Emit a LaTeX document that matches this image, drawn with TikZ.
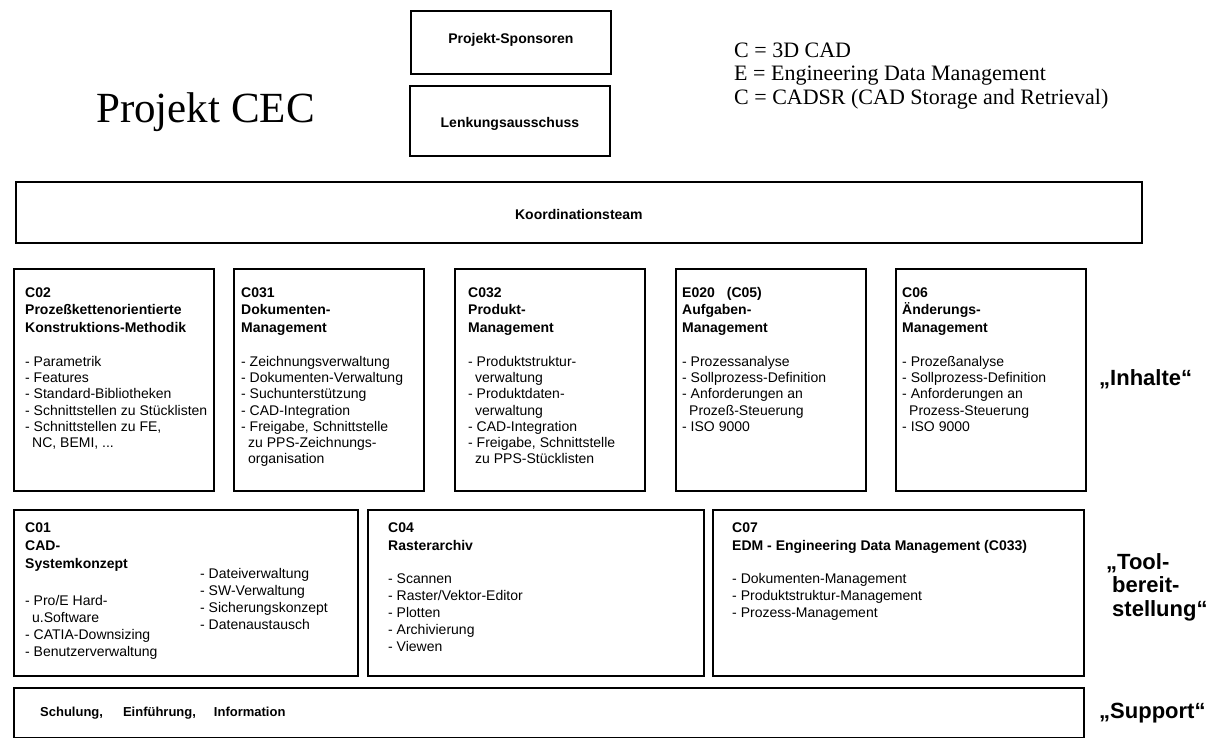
\documentclass[tikz,border=0pt]{standalone}
\usepackage{fontspec}
\setmainfont{Liberation Serif}
\newfontfamily\arial{Liberation Sans}
\usetikzlibrary{calc}
\newcommand\hd[1]{\textbf{#1}}
\newcommand\fh[1]{\textbf{\vphantom{()}#1}}
\newcommand\ind{\hspace*{7pt}}
\begin{document}
\begin{tikzpicture}[x=1pt,y=-1pt,
  box/.style={draw, line width=1.8pt, anchor=north west, inner sep=0pt},
  txt/.style={anchor=north west, inner sep=0pt, align=left, font=\arial\fontsize{14}{16.3}\selectfont},
  txtb/.style={anchor=north west, inner sep=0pt, align=left, font=\arial\fontsize{14}{17}\selectfont},
  ttl/.style={font=\arial\bfseries\fontsize{14}{17}\selectfont, inner sep=0pt},
  side/.style={anchor=west, inner sep=0pt, align=left, font=\arial\bfseries\fontsize{22}{23.5}\selectfont}]
\useasboundingbox (0,0) rectangle (1212,738);
\fill[white] (0,0) rectangle (1212,738);

% title and legend
\node[anchor=base, inner sep=0pt, font=\fontsize{43}{47}\selectfont] (title) at (205.5,123) {Projekt CEC};
\node[anchor=north west, inner sep=0pt, align=left, font=\fontsize{22}{23.5}\selectfont] (legend) at (734,42.5)
  {C = 3D CAD\\E = Engineering Data Management\\C = CADSR (CAD Storage and Retrieval)};

% top boxes
\node[box, minimum width=200pt, minimum height=63pt] (spons) at (410,10) {};
\node[ttl] (sponst) at ($(spons.center)+(0,-3)$) {Projekt-Sponsoren};
\node[box, minimum width=200pt, minimum height=70pt] (lenk) at (409,85) {};
\node[ttl] (lenkt) at ($(lenk.center)+(0,3)$) {Lenkungsausschuss};
\node[box, minimum width=1126pt, minimum height=61pt] (koord) at (15,181) {};
\node[ttl] (koordt) at ($(koord.center)+(0,2)$) {Koordinationsteam};

% content row
\node[box, minimum width=200pt, minimum height=222pt] (c02) at (13,268) {};
\node[box, minimum width=190pt, minimum height=222pt] (c031) at (233,268) {};
\node[box, minimum width=190pt, minimum height=222pt] (c032) at (454,268) {};
\node[box, minimum width=190pt, minimum height=222pt] (e020) at (675,268) {};
\node[box, minimum width=190pt, minimum height=222pt] (c06) at (895,268) {};

\node[txt] (c02t) at ($(c02.north west)+(12,19)$) {\fh{C02}\\[1.2pt]\hd{Prozeßkettenorientierte}\\[1.2pt]\hd{Konstruktions-Methodik}\\[17.5pt]
- Parametrik\\- Features\\- Standard-Bibliotheken\\- Schnittstellen zu Stücklisten\\- Schnittstellen zu FE,\\\ind NC, BEMI, ...};
\node[txt] (c031t) at ($(c031.north west)+(8,19)$) {\fh{C031}\\[1.2pt]\hd{Dokumenten-}\\[1.2pt]\hd{Management}\\[17.5pt]
- Zeichnungsverwaltung\\- Dokumenten-Verwaltung\\- Suchunterstützung\\- CAD-Integration\\- Freigabe, Schnittstelle\\\ind zu PPS-Zeichnungs-\\\ind organisation};
\node[txt] (c032t) at ($(c032.north west)+(14,19)$) {\fh{C032}\\[1.2pt]\hd{Produkt-}\\[1.2pt]\hd{Management}\\[17.5pt]
- Produktstruktur-\\\ind verwaltung\\- Produktdaten-\\\ind verwaltung\\- CAD-Integration\\- Freigabe, Schnittstelle\\\ind zu PPS-Stücklisten};
\node[txt] (e020t) at ($(e020.north west)+(7,19)$) {\fh{E020\hspace{12pt}(C05)}\\[1.2pt]\hd{Aufgaben-}\\[1.2pt]\hd{Management}\\[17.5pt]
- Prozessanalyse\\- Sollprozess-Definition\\- Anforderungen an\\\ind Prozeß-Steuerung\\- ISO 9000};
\node[txt] (c06t) at ($(c06.north west)+(7,19)$) {\fh{C06}\\[1.2pt]\hd{Änderungs-}\\[1.2pt]\hd{Management}\\[17.5pt]
- Prozeßanalyse\\- Sollprozess-Definition\\- Anforderungen an\\\ind Prozess-Steuerung\\- ISO 9000};

% tool row
\node[box, minimum width=344pt, minimum height=166pt] (c01) at (13,509) {};
\node[box, minimum width=336pt, minimum height=166pt] (c04) at (367,509) {};
\node[box, minimum width=371pt, minimum height=166pt] (c07) at (712,509) {};

\node[txtb] (c01t) at ($(c01.north west)+(12,13)$) {\fh{C01}\\[1pt]\hd{CAD-}\\[1pt]\hd{Systemkonzept}\\[20pt]
- Pro/E Hard-\\\ind u.Software\\- CATIA-Downsizing\\- Benutzerverwaltung};
\node[txtb] (c01r) at ($(c01.north west)+(187,59)$) {- Dateiverwaltung\\- SW-Verwaltung\\- Sicherungskonzept\\- Datenaustausch};
\node[txtb] (c04t) at ($(c04.north west)+(21,13)$) {\fh{C04}\\[1pt]\hd{Rasterarchiv}\\[16.5pt]
- Scannen\\- Raster/Vektor-Editor\\- Plotten\\- Archivierung\\- Viewen};
\node[txtb] (c07t) at ($(c07.north west)+(20,13)$) {\fh{C07}\\[1pt]\hd{EDM - Engineering Data Management (C033)}\\[16.5pt]
- Dokumenten-Management\\- Produktstruktur-Management\\- Prozess-Management};

% support row
\node[box, minimum width=1070pt, minimum height=50pt] (supp) at (13,687) {};
\node[anchor=west, inner sep=0pt, font=\arial\bfseries\fontsize{13}{15}\selectfont] (suppt) at (40,713) {Schulung,\hspace{20pt}Einführung,\hspace{18pt}Information};

% side labels
\node[side] (inh) at (1099,379) {„Inhalte“};
\node[side, anchor=north west] (tool) at (1106,553) {„Tool-\\\hspace*{6pt}bereit-\\\hspace*{6pt}stellung“};
\node[side] (sup) at (1099,713) {„Support“};
\end{tikzpicture}
\end{document}
